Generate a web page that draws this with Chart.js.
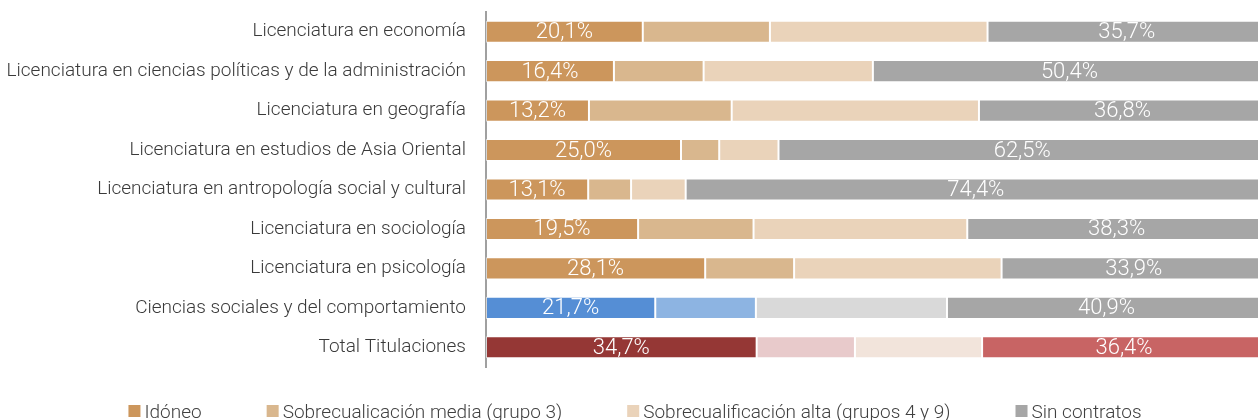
<!DOCTYPE html>
<html>
<head>
<meta charset="utf-8">
<script src="https://cdn.jsdelivr.net/npm/chart.js@4.4.1/dist/chart.umd.min.js"></script>
<style>
    html, body { margin: 0; padding: 0; background: #fff; overflow: hidden; }
    #wrap { width: 1266px; height: 420px; position: relative; }
</style>
</head>
<body>
<div id="wrap"><canvas id="chart"></canvas></div>
<script>
const categories = [
    'Licenciatura en economía',
    'Licenciatura en ciencias políticas y de la administración',
    'Licenciatura en geografía',
    'Licenciatura en estudios de Asia Oriental',
    'Licenciatura en antropología social y cultural',
    'Licenciatura en sociología',
    'Licenciatura en psicología',
    'Ciencias sociales y del comportamiento',
    'Total Titulaciones'
];

const seriesNames = [
    'Idóneo',
    'Sobrecualicación media (grupo 3)',
    'Sobrecualificación alta (grupos 4 y 9)',
    'Sin contratos'
];

const idoneo = [20.1, 16.4, 13.2, 25.0, 13.1, 19.5, 28.1, 21.7, 34.7];
const media  = [16.3, 11.5, 18.3, 4.9, 5.5, 14.8, 11.4, 12.9, 12.6];
const alta   = [27.9, 21.7, 31.7, 7.6, 7.0, 27.4, 26.6, 24.5, 16.3];
const sinContratos = [35.7, 50.4, 36.8, 62.5, 74.4, 38.3, 33.9, 40.9, 36.4];

// colours: degrees, branch row, total row
const baseColors   = ['#cc965c', '#d9b78e', '#ead3ba', '#a6a6a6'];
const branchColors = ['#558ed5', '#8db4e2', '#d9d9d9', '#a6a6a6'];
const totalColors  = ['#953735', '#e8cacb', '#f2e4db', '#c86464'];

const FONT = 'Roboto, "Liberation Sans", sans-serif';

function rowColors(i) {
    return categories.map((c, r) => {
        if (r === categories.length - 1) return totalColors[i];
        if (r === categories.length - 2) return branchColors[i];
        return baseColors[i];
    });
}

const values = [idoneo, media, alta, sinContratos];
const datasets = values.map((v, i) => ({
    label: seriesNames[i],
    data: v,
    backgroundColor: rowColors(i),
    borderColor: 'rgba(255,255,255,0.55)',
    borderWidth: 1,
    borderSkipped: false,
    barPercentage: 0.56,
    categoryPercentage: 1.0
}));

// white percentages on first and last segment
const valueLabels = {
    id: 'valueLabels',
    afterDatasetsDraw(chart) {
        const ctx = chart.ctx;
        ctx.save();
        ctx.font = '300 22px ' + FONT;
        ctx.fillStyle = '#ffffff';
        ctx.textAlign = 'center';
        ctx.textBaseline = 'middle';
        [0, 3].forEach(di => {
            const meta = chart.getDatasetMeta(di);
            meta.data.forEach((bar, j) => {
                const p = bar.getProps(['x', 'y', 'base'], true);
                const v = chart.data.datasets[di].data[j];
                const txt = v.toFixed(1).replace('.', ',') + '%';
                ctx.fillText(txt, (p.x + p.base) / 2, p.y + 1);
            });
        });
        ctx.restore();
    }
};

// legend drawn by hand so the wide item spacing fits under the plot
const bottomLegend = {
    id: 'bottomLegend',
    afterDraw(chart) {
        const ctx = chart.ctx;
        const box = 12, gap = 4, spacing = 65;
        ctx.save();
        ctx.font = '300 19px ' + FONT;
        const items = chart.data.datasets.map((d, i) => ({
            text: d.label,
            color: baseColors[i],
            w: box + gap + ctx.measureText(d.label).width
        }));
        const total = items.reduce((s, it) => s + it.w, 0) + spacing * (items.length - 1);
        let x = chart.width / 2 + 2 - total / 2;
        ctx.textBaseline = 'alphabetic';
        ctx.textAlign = 'left';
        items.forEach(it => {
            ctx.fillStyle = it.color;
            ctx.fillRect(x, 405, box, box);
            ctx.fillStyle = '#404040';
            ctx.fillText(it.text, x + box + gap, 418);
            x += it.w + spacing;
        });
        ctx.restore();
    }
};

new Chart(document.getElementById('chart'), {
    type: 'bar',
    data: {
        labels: categories,
        datasets: datasets
    },
    options: {
        indexAxis: 'y',
        responsive: true,
        maintainAspectRatio: false,
        animation: false,
        layout: {
            padding: { top: 12, bottom: 53, left: 0, right: 0 }
        },
        plugins: {
            legend: { display: false },
            tooltip: { enabled: false }
        },
        scales: {
            x: {
                stacked: true,
                min: 0,
                max: 100,
                display: false
            },
            y: {
                stacked: true,
                grid: { display: false, drawTicks: false },
                border: { display: true, color: '#a0a0a0', width: 2 },
                ticks: {
                    padding: 20,
                    color: '#3a3a3a',
                    font: { family: FONT, size: 19, weight: 300 }
                },
                afterFit(scale) {
                    scale.width = 486;
                    scale.paddingTop = 0;
                    scale.paddingBottom = 0;
                }
            }
        }
    },
    plugins: [valueLabels, bottomLegend]
});
</script>
</body>
</html>
